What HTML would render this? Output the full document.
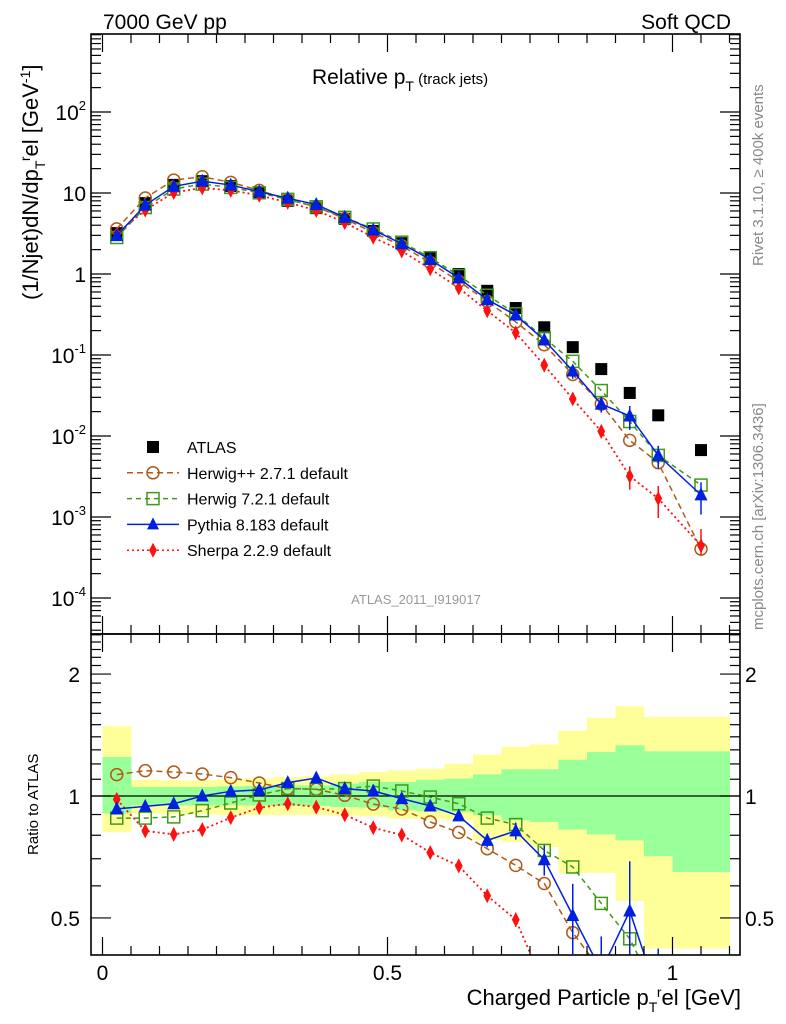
<!DOCTYPE html>
<html><head><meta charset="utf-8">
<style>
html,body{margin:0;padding:0;background:#fff;overflow:hidden;width:786px;height:1024px;}
svg{display:block;font-family:"Liberation Sans",sans-serif;}
</style></head>
<body>
<svg id="c" width="786" height="1024" viewBox="0 0 786 1024" xmlns="http://www.w3.org/2000/svg">
<defs>
<clipPath id="clipTop"><rect x="91" y="34" width="649" height="600"/></clipPath>
<clipPath id="clipBot"><rect x="91" y="634" width="649" height="321"/></clipPath>
</defs>
<g id="bands" clip-path="url(#clipBot)"></g>
<g id="marksTop" clip-path="url(#clipTop)"></g>
<g id="marksBot" clip-path="url(#clipBot)"></g>
<g id="axes"></g>
<text x="103" y="29" font-size="21">7000 GeV pp</text>
<text x="731" y="29" font-size="21" text-anchor="end">Soft QCD</text>
<text x="312" y="84" font-size="21">Relative p<tspan font-size="14" dy="7">T</tspan><tspan font-size="15" dy="-7"> (track jets)</tspan></text>
<text transform="translate(38,300) rotate(-90)" font-size="22">(1/Njet)dN/dp<tspan font-size="14" dy="7">T</tspan><tspan font-size="14" dy="-15">r</tspan><tspan dy="8">el [GeV</tspan><tspan font-size="14" dy="-8">-1</tspan><tspan dy="8">]</tspan></text>
<text transform="translate(38,855) rotate(-90)" font-size="15">Ratio to ATLAS</text>
<text x="741" y="1005" font-size="22" text-anchor="end">Charged Particle p<tspan font-size="14" dy="7">T</tspan><tspan font-size="14" dy="-15">r</tspan><tspan dy="8">el [GeV]</tspan></text>
<text transform="translate(763,266) rotate(-90)" font-size="15" fill="#888">Rivet 3.1.10, ≥ 400k events</text>
<text transform="translate(763,630) rotate(-90)" font-size="15" fill="#888">mcplots.cern.ch [arXiv:1306.3436]</text>
<text x="416" y="604" font-size="13" fill="#999" text-anchor="middle">ATLAS_2011_I919017</text>
<g id="legend"></g>
</svg>
<script>
// ---- data ----
const binLo = [0,0.05,0.1,0.15,0.2,0.25,0.3,0.35,0.4,0.45,0.5,0.55,0.6,0.65,0.7,0.75,0.8,0.85,0.9,0.95,1.0];
const binHi = [0.05,0.1,0.15,0.2,0.25,0.3,0.35,0.4,0.45,0.5,0.55,0.6,0.65,0.7,0.75,0.8,0.85,0.9,0.95,1.0,1.1];
const atlas = [3.2,7.5,12.6,14,12.2,10,8,6.5,4.8,3.4,2.4,1.6,1.0,0.62,0.38,0.22,0.125,0.067,0.034,0.018,0.0067];
const herwigppRatio = [1.129,1.155,1.146,1.133,1.11,1.077,1.043,1.039,1.004,0.955,0.929,0.863,0.813,0.741,0.674,0.608,0.46,0.37,0.26,0.26,0.06];
const herwig7Ratio = [0.882,0.882,0.888,0.92,0.961,1.006,1.043,1.039,1.043,1.058,1.029,0.994,0.957,0.882,0.85,0.734,0.668,0.543,0.444,0.32,0.37];
const pythiaRatio = [0.929,0.943,0.957,1.0,1.027,1.035,1.079,1.108,1.043,1.029,0.985,0.945,0.893,0.777,0.82,0.696,0.507,0.37,0.52,0.32,0.28];
const pythiaErr = [0,0,0,0,0,0,0,0,0,0,0,0.01,0.01,0.03,0.04,0.06,0.1,0.08,0.17,0.1,0.12];
const sherpaRatio = [0.981,0.82,0.804,0.826,0.884,0.936,0.957,0.939,0.899,0.835,0.801,0.725,0.672,0.567,0.495,0.34,0.23,0.17,0.094,0.094,0.066];
const sherpaErr = [0,0,0,0,0,0,0,0,0,0,0,0,0,0.01,0.02,0.02,0.03,0.03,0.03,0.04,0.04];
const yellowUp = [1.486,1.097,1.093,1.093,1.097,1.106,1.114,1.118,1.131,1.146,1.157,1.168,1.202,1.267,1.326,1.341,1.452,1.561,1.665,1.567,1.567];
const yellowLo = [0.815,0.905,0.901,0.901,0.898,0.898,0.898,0.898,0.894,0.891,0.879,0.879,0.87,0.777,0.77,0.748,0.646,0.646,0.551,0.42,0.42];
const greenUp = [1.248,1.052,1.052,1.052,1.056,1.06,1.062,1.062,1.073,1.083,1.083,1.097,1.104,1.131,1.164,1.164,1.229,1.284,1.334,1.289,1.289];
const greenLo = [0.905,0.948,0.948,0.948,0.948,0.947,0.945,0.945,0.939,0.936,0.922,0.918,0.913,0.896,0.871,0.863,0.826,0.804,0.777,0.71,0.649];
const topTickExp = [-4,-3,-2,-1,0,1,2];
const ratioTicks = [0.5,1,2];
const ratioTickLabels = ["0.5","1","2"];
const xTickVals = [0,0.5,1];
const xTickLabels = ["0","0.5","1"];

// ---- axes functions ----
const X0=91, X1=740, TT=34, TB=634, BT=634, BB=955;
const xs = v => 102.5 + 570*v;
const yTop = v => 274 - 81*Math.log10(v);
const yBot = r => 796 - 405*Math.log10(r);
const NS="http://www.w3.org/2000/svg";
function mk(tag, attrs, parent){const e=document.createElementNS(NS,tag);for(const k in attrs)e.setAttribute(k,attrs[k]);parent.appendChild(e);return e;}

const centers = binLo.map((l,i)=>(l+binHi[i])/2);

const gB=document.getElementById('bands');
binLo.forEach((l,i)=>{
  const r1=mk('rect',{x:xs(l),y:yBot(yellowUp[i]),width:xs(binHi[i])-xs(l)+0.5,height:yBot(yellowLo[i])-yBot(yellowUp[i]),fill:'#ffff99'},gB);
  
  
});
binLo.forEach((l,i)=>{
  const r2=mk('rect',{x:xs(l),y:yBot(greenUp[i]),width:xs(binHi[i])-xs(l)+0.5,height:yBot(greenLo[i])-yBot(greenUp[i]),fill:'#99ff99'},gB);
  
  
});
const one=mk('line',{x1:X0,x2:X1,y1:yBot(1),y2:yBot(1),stroke:'#000','stroke-width':1.3},gB);



function marker(kind,color,x,y,g,s){
  let e;
  if(kind==='square') e=mk('rect',{x:x-s,y:y-s,width:2*s,height:2*s,fill:'#000'},g);
  else if(kind==='osquare') e=mk('rect',{x:x-s,y:y-s,width:2*s,height:2*s,fill:'none',stroke:color,'stroke-width':1.5},g);
  else if(kind==='ocircle') e=mk('circle',{cx:x,cy:y,r:s,fill:'none',stroke:color,'stroke-width':1.5},g);
  else if(kind==='tri') e=mk('polygon',{points:`${x},${y-s-1} ${x-s},${y+s-1} ${x+s},${y+s-1}`,fill:color},g);
  else e=mk('polygon',{points:`${x},${y-s-1.5} ${x-s*0.65},${y} ${x},${y+s+1.5} ${x+s*0.65},${y}`,fill:color},g);
  return e;
}

const series=[
 {name:'herwigpp',ratio:herwigppRatio,err:null,color:'#b05a17',dash:'6,4',kind:'ocircle',w:1.5},
 {name:'herwig7',ratio:herwig7Ratio,err:null,color:'#3f9a16',dash:'5,4',kind:'osquare',w:1.5},
 {name:'sherpa',ratio:sherpaRatio,err:sherpaErr,color:'#ff1010',dash:'2,3',kind:'diamond',w:1.8},
 {name:'pythia',ratio:pythiaRatio,err:pythiaErr,color:'#0020e0',dash:null,kind:'tri',w:1.5}
];
const gT=document.getElementById('marksTop'), gR=document.getElementById('marksBot');

atlas.forEach((v,i)=>{
  const m=marker('square','#000',xs(centers[i]),yTop(v),gT,6);
  
  
});

series.forEach(s=>{
  const ptsT=centers.map((c,i)=>`${xs(c)},${yTop(atlas[i]*s.ratio[i])}`).join(' ');
  const ptsR=centers.map((c,i)=>`${xs(c)},${yBot(s.ratio[i])}`).join(' ');
  const a={fill:'none',stroke:s.color,'stroke-width':s.w};
  if(s.dash)a['stroke-dasharray']=s.dash;
  const lT=mk('polyline',Object.assign({points:ptsT},a),gT);
  
  
  const lR=mk('polyline',Object.assign({points:ptsR},a),gR);
  
  
  centers.forEach((c,i)=>{
    const sz = s.kind==='tri'?6.5:6;
    if(s.err && s.err[i]>0){
      const r=s.ratio[i], e=s.err[i];
      const eb=mk('line',{x1:xs(c),x2:xs(c),y1:yBot(r+e),y2:yBot(Math.max(r-e,0.05)),stroke:s.color,'stroke-width':1.5},gR);
      
      
      const et=mk('line',{x1:xs(c),x2:xs(c),y1:yTop(atlas[i]*(r+e)),y2:yTop(atlas[i]*Math.max(r-e,0.05)),stroke:s.color,'stroke-width':1.5},gT);
      
      
    }
    const mT=marker(s.kind,s.color,xs(c),yTop(atlas[i]*s.ratio[i]),gT,sz);
    
    
    const mR=marker(s.kind,s.color,xs(c),yBot(s.ratio[i]),gR,sz);
    
    
  });
});

const gA=document.getElementById('axes');
const ln=(x1,y1,x2,y2,w)=>mk('line',{x1,y1,x2,y2,stroke:'#000','stroke-width':w||1},gA);
[[TT,TB],[BT,BB]].forEach(([t,b])=>{
  const f=mk('rect',{x:X0,y:t,width:X1-X0,height:b-t,fill:'none',stroke:'#000','stroke-width':1.6},gA);
  
  
  for(let k=0;k<=22;k++){
    const v=k*0.05, x=xs(v); if(x>X1)break;
    const major = (k%10===0); const L=major?18:9;
    ln(x,t,x,t+L,1.2); ln(x,b,x,b-L,1.2);
  }
});
for(let e=-5;e<=2;e++){
  for(let m=1;m<=9;m++){
    const y=yTop(m*Math.pow(10,e)); if(y<TT||y>TB)continue;
    const L=m===1?20:10;
    ln(X0,y,X0+L,y,1.2); ln(X1,y,X1-L,y,1.2);
  }
}
topTickExp.forEach(e=>{
  const y=yTop(Math.pow(10,e));
  const t=mk('text',{x:86,y:y+8,'font-size':21,'text-anchor':'end'},gA);
  if(e===0)t.textContent='1';
  else if(e===1)t.textContent='10';
  else{t.textContent='10';const s=mk('tspan',{'font-size':13,dy:-10},t);s.textContent=String(e);}
  
  
});
for(let k=4;k<=25;k++){
  const r=k/10; const y=yBot(r); if(y<BT||y>BB)continue;
  const major=(k===5||k===10||k===20); const L=major?20:10;
  ln(X0,y,X0+L,y,1.2); ln(X1,y,X1-L,y,1.2);
}
ratioTicks.forEach((r,i)=>{
  const y=yBot(r)+8;
  const a=mk('text',{x:80,y,'font-size':21,'text-anchor':'end'},gA); a.textContent=ratioTickLabels[i];
  
  
  const b=mk('text',{x:745,y,'font-size':21},gA); b.textContent=ratioTickLabels[i];
  
  
});
xTickVals.forEach((v,i)=>{
  const t=mk('text',{x:xs(v),y:980,'font-size':21,'text-anchor':'middle'},gA); t.textContent=xTickLabels[i];
  
  
});

const gL=document.getElementById('legend');
const leg=[
 {label:'ATLAS',kind:'square',color:'#000',dash:null,line:false},
 {label:'Herwig++ 2.7.1 default',kind:'ocircle',color:'#b05a17',dash:'6,4',line:true},
 {label:'Herwig 7.2.1 default',kind:'osquare',color:'#3f9a16',dash:'5,4',line:true},
 {label:'Pythia 8.183 default',kind:'tri',color:'#0020e0',dash:null,line:true},
 {label:'Sherpa 2.2.9 default',kind:'diamond',color:'#ff1010',dash:'2,3',line:true}
];
leg.forEach((L,i)=>{
  const y=447+i*25.8;
  const g=mk('g',{},gL);
  
  
  if(L.line){const a={x1:127,x2:179,y1:y,y2:y,stroke:L.color,'stroke-width':1.5};if(L.dash)a['stroke-dasharray']=L.dash;mk('line',a,g);}
  marker(L.kind,L.color,153,y,g,6);
  const t=mk('text',{x:187,y:y+6,'font-size':16},g); t.textContent=L.label;
});
</script>
</body></html>
